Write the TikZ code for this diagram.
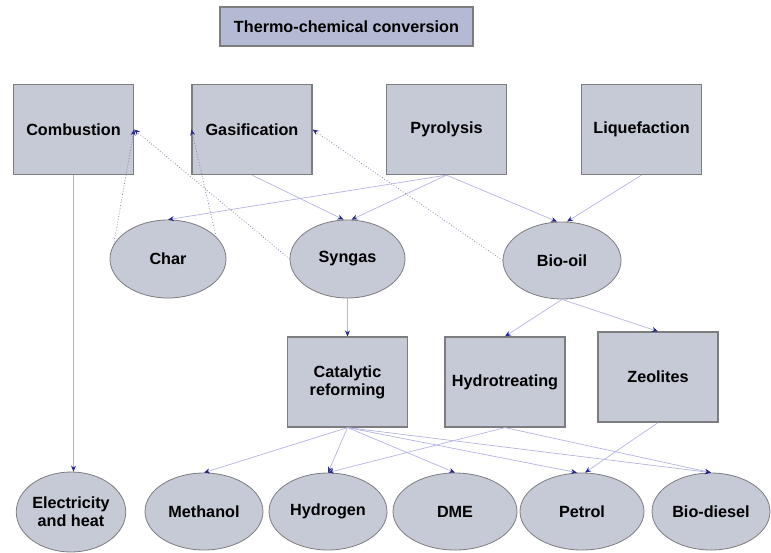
\documentclass[tikz,border=0pt]{standalone}
\usepackage{fontspec}
\setmainfont{Liberation Sans}
\usetikzlibrary{arrows.meta,shapes.geometric}
\definecolor{boxfill}{RGB}{198,201,214}
\definecolor{titlefill}{RGB}{180,186,211}
\definecolor{edgegray}{RGB}{125,125,128}
\definecolor{linkblue}{RGB}{180,180,228}
\definecolor{tipblue}{RGB}{40,40,140}
\definecolor{dotblue}{RGB}{135,135,175}
\begin{document}
\begin{tikzpicture}[x=1pt, y=-1pt,
  font=\fontsize{16.2}{18}\selectfont\bfseries,
  box/.style={draw=edgegray, line width=1.2pt, fill=boxfill, minimum width=120pt, minimum height=90pt, align=center, inner sep=0pt},
  blob/.style={ellipse, draw=edgegray, line width=0.8pt, fill=boxfill, minimum width=118pt, minimum height=77pt, align=center, inner sep=0pt},
  link/.style={draw=linkblue, line width=0.7pt, -{Stealth[length=6pt, width=5pt, color=tipblue]}},
  back/.style={draw=dotblue, line width=0.8pt, dotted, -{Stealth[length=6pt, width=5pt, color=tipblue]}}]
  \useasboundingbox (0,0) rectangle (771,552);
  \node[box, fill=titlefill, minimum width=253pt, minimum height=39pt] (title) at (346.5, 26.5) {Thermo-chemical conversion};
  \node[box] (comb) at (73.5, 129.5) {Combustion};
  \node[box] (gas) at (252, 129.5) {Gasification};
  \node[box] (pyro) at (446.5, 129.5) {Pyrolysis};
  \node[box] (liq) at (641.5, 129.5) {Liquefaction};
  \node[blob, minimum width=116pt, minimum height=78pt] (char) at (168, 259) {Char};
  \node[blob, minimum width=115pt, minimum height=78pt] (syngas) at (347.5, 259) {Syngas};
  \node[blob] (biooil) at (562, 260.5) {Bio-oil};
  \node[box] (reform) at (347.5, 382) {Catalytic\\reforming};
  \node[box] (hydrotr) at (505, 382) {Hydrotreating};
  \node[box] (zeol) at (658, 377) {Zeolites};
  \node[blob, minimum width=108pt, minimum height=80pt] (elec) at (71, 512) {Electricity\\and heat};
  \node[blob] (meth) at (204, 511.5) {Methanol};
  \node[blob] (hydrog) at (328, 511.5) {Hydrogen};
  \node[blob, minimum width=124pt] (dme) at (455, 511.5) {DME};
  \node[blob, minimum width=124pt] (petrol) at (582, 511.5) {Petrol};
  \node[blob] (biodsl) at (711, 511.5) {Bio-diesel};
  \draw[link] (comb.south) -- (comb.south |- elec.north);
  \draw[back] (char.165) -- (comb.east);
  \draw[back] (char.25) -- (gas.west);
  \draw[back] (syngas.west) -- (comb.east);
  \draw[back] (biooil.west) -- (gas.east);
  \draw[link] (gas.south) -- ([xshift=-4pt]syngas.north);
  \draw[link] (pyro.south) -- (char.north);
  \draw[link] (pyro.south) -- ([xshift=4pt]syngas.north);
  \draw[link] (pyro.south) -- ([xshift=-5pt]biooil.north);
  \draw[link] (liq.south) -- ([xshift=5pt]biooil.north);
  \draw[link] (syngas.south) -- (reform.north);
  \draw[link] (biooil.south) -- (hydrotr.north);
  \draw[link] (biooil.south) -- (zeol.north);
  \draw[link] (reform.south) -- (meth.north);
  \draw[link] (reform.south) -- (hydrog.north);
  \draw[link] (reform.south) -- (dme.north);
  \draw[link] (reform.south) -- ([xshift=-5pt]petrol.north);
  \draw[link] (reform.south) -- (biodsl.north);
  \draw[link] (hydrotr.south) -- (hydrog.north);
  \draw[link] (hydrotr.south) -- (biodsl.north);
  \draw[link] (zeol.south) -- ([xshift=3pt]petrol.north);
\end{tikzpicture}
\end{document}
